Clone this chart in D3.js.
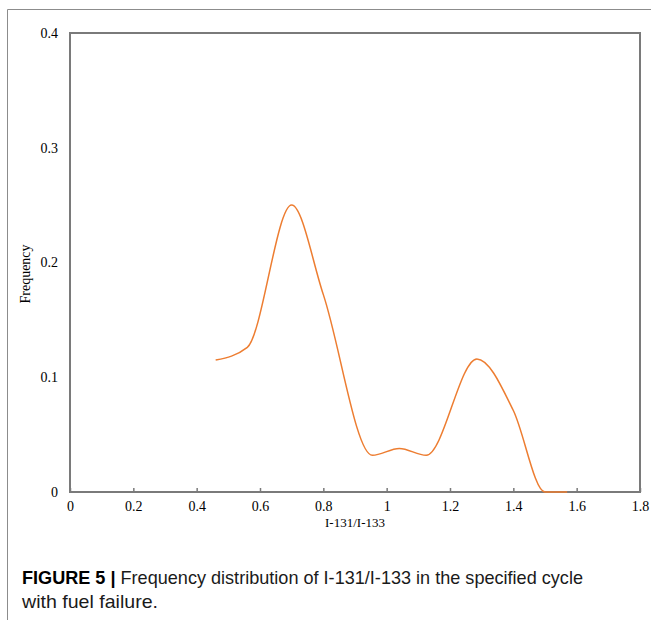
<!DOCTYPE html>
<html>
<head>
<meta charset="utf-8">
<script src="https://cdn.jsdelivr.net/npm/d3@7"></script>
<style>
  body { margin: 0; background: #fff; }
</style>
</head>
<body>
<script>
const ratio = [0.46, 0.56, 0.70, 0.80, 0.955, 1.04, 1.125, 1.285, 1.40, 1.50, 1.57];
const frequency = [0.115, 0.126, 0.25, 0.172, 0.032, 0.038, 0.032, 0.116, 0.071, 0, 0];
const xTicks = [0, 0.2, 0.4, 0.6, 0.8, 1, 1.2, 1.4, 1.6, 1.8];
const yTicks = [0, 0.1, 0.2, 0.3, 0.4];

const W = 651, H = 620;
const margin = { top: 33, right: 11, bottom: 128, left: 70 },
  width = W - margin.left - margin.right,
  height = H - margin.top - margin.bottom;

const serif = "'Liberation Serif', 'Times New Roman', serif";

const svg = d3.select("body").append("svg")
  .attr("width", W)
  .attr("height", H);

// outer frame of the figure (top + left only visible)
svg.append("path")
  .attr("d", `M7.5,${H} V9.5 H${W}`)
  .attr("fill", "none")
  .attr("stroke", "#8c8c8c")
  .attr("stroke-width", 1);

const g = svg.append("g")
  .attr("transform", `translate(${margin.left},${margin.top})`);

const x = d3.scaleLinear().domain([0, 1.8]).range([0, width]);
const y = d3.scaleLinear().domain([0, 0.4]).range([height, 0]);

const fmt = d => String(+d.toFixed(1));

// x axis, ticks pointing inward
g.append("g")
  .attr("transform", `translate(0,${height})`)
  .call(d3.axisBottom(x).tickValues(xTicks).tickSizeInner(-4).tickSizeOuter(0)
    .tickPadding(9).tickFormat(fmt))
  .call(a => a.select(".domain").remove())
  .call(a => a.selectAll(".tick line").attr("stroke", "#7a7a7a").attr("stroke-width", 1.5))
  .call(a => a.selectAll("text")
    .attr("font-family", serif)
    .attr("font-size", 14).attr("fill", "#000"));

// y axis, labels only
g.append("g")
  .call(d3.axisLeft(y).tickValues(yTicks).tickSize(0).tickPadding(12).tickFormat(fmt))
  .call(a => a.select(".domain").remove())
  .call(a => a.selectAll("text")
    .attr("font-family", serif)
    .attr("font-size", 14).attr("fill", "#000"));

// plot box
g.append("rect")
  .attr("x", 0).attr("y", 0)
  .attr("width", width).attr("height", height)
  .attr("fill", "none")
  .attr("stroke", "#7a7a7a")
  .attr("stroke-width", 2);

// curve
const line = d3.line()
  .x((d, i) => x(ratio[i]))
  .y(d => y(d))
  .curve(d3.curveMonotoneX);

g.append("path")
  .datum(frequency)
  .attr("d", line)
  .attr("fill", "none")
  .attr("stroke", "#ED7D31")
  .attr("stroke-width", 1.5);

// axis titles
g.append("text")
  .attr("x", x(0.9))
  .attr("y", height + 35)
  .attr("text-anchor", "middle")
  .attr("font-family", serif)
  .attr("font-size", 13)
  .text("I-131/I-133");

g.append("text")
  .attr("transform", `translate(${-40},${y(0.19)}) rotate(-90)`)
  .attr("text-anchor", "middle")
  .attr("font-family", serif)
  .attr("font-size", 14)
  .text("Frequency");

// caption
const cap = svg.append("text")
  .attr("font-family", "'Liberation Sans Narrow', 'Liberation Sans', sans-serif")
  .attr("font-size", 18.5)
  .attr("fill", "#1a1a1a");

const l1 = cap.append("tspan").attr("x", 22).attr("y", 584)
  .attr("textLength", 561).attr("lengthAdjust", "spacingAndGlyphs");
l1.append("tspan").attr("font-weight", "bold").attr("fill", "#000").text("FIGURE 5 | ");
l1.append("tspan").text("Frequency distribution of I-131/I-133 in the specified cycle");
cap.append("tspan").attr("x", 22).attr("y", 608)
  .attr("textLength", 136).attr("lengthAdjust", "spacingAndGlyphs")
  .text("with fuel failure.");
</script>
</body>
</html>
